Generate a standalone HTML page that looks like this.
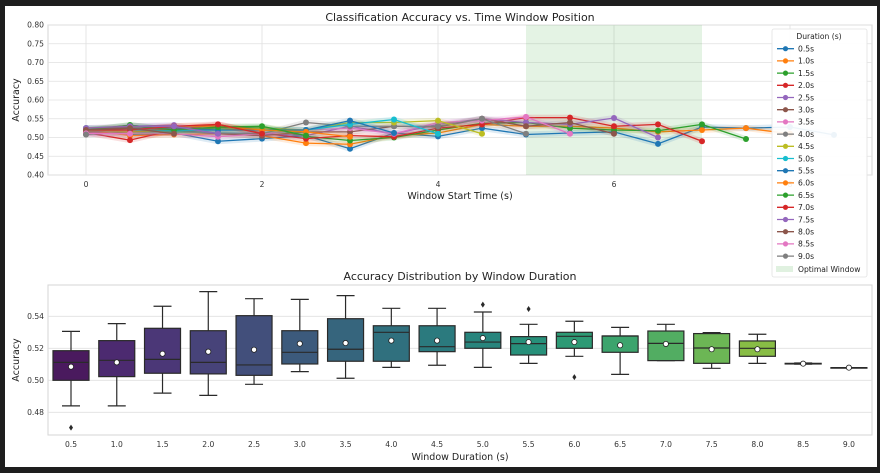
<!DOCTYPE html>
<html><head><meta charset="utf-8"><style>
html,body{margin:0;padding:0;background:#1e1e1e;}
svg{display:block;font-family:"DejaVu Sans","Liberation Sans",sans-serif;}
</style></head><body>
<svg id="fig" width="880" height="473" viewBox="0 0 880 473" xmlns="http://www.w3.org/2000/svg">
<rect x="0" y="0" width="880" height="473" fill="#1e1e1e"/>
<rect x="5" y="6" width="872" height="461" fill="#ffffff"/>
<g id="topchart"></g>
<g id="botchart"></g>
</svg>
<script>
// ---------- Top chart data ----------
const durations = [0.5,1.0,1.5,2.0,2.5,3.0,3.5,4.0,4.5,5.0,5.5,6.0,6.5,7.0,7.5,8.0,8.5,9.0];
const durLabels = ["0.5s","1.0s","1.5s","2.0s","2.5s","3.0s","3.5s","4.0s","4.5s","5.0s","5.5s","6.0s","6.5s","7.0s","7.5s","8.0s","8.5s","9.0s"];
const s05=[0.515,0.508,0.512,0.49,0.497,0.505,0.47,0.512,0.503,0.525,0.508,0.512,0.515,0.483,0.528,0.525,0.528,0.507];
const s10=[0.52,0.505,0.508,0.51,0.505,0.485,0.482,0.505,0.512,0.535,0.53,0.53,0.525,0.515,0.52,0.525,0.51];
const s15=[0.518,0.533,0.52,0.525,0.528,0.503,0.492,0.5,0.52,0.538,0.54,0.525,0.52,0.518,0.535,0.496];
const s20=[0.513,0.493,0.52,0.535,0.512,0.497,0.505,0.502,0.525,0.535,0.553,0.553,0.53,0.535,0.49];
const s25=[0.51,0.53,0.533,0.51,0.51,0.505,0.53,0.51,0.535,0.55,0.54,0.535,0.552,0.5];
const s30=[0.525,0.525,0.52,0.51,0.505,0.515,0.515,0.53,0.528,0.55,0.53,0.54,0.51];
const s35=[0.51,0.512,0.51,0.502,0.51,0.52,0.525,0.51,0.54,0.545,0.555,0.51];
const s40=[0.508,0.515,0.515,0.512,0.51,0.54,0.53,0.53,0.53,0.55,0.51];
const s45=[0.52,0.515,0.52,0.52,0.525,0.52,0.54,0.54,0.545,0.51];
const s50=[0.525,0.52,0.518,0.52,0.52,0.52,0.535,0.548,0.51];
const s55=[0.52,0.525,0.525,0.52,0.52,0.52,0.545,0.512];
const s60=[0.52,0.52,0.53,0.53,0.52,0.515,0.502];
const s65=[0.52,0.533,0.52,0.528,0.53,0.505];
const s70=[0.52,0.52,0.53,0.535,0.51];
const s75=[0.525,0.53,0.53,0.51];
const s80=[0.52,0.525,0.51];
const s85=[0.511,0.51];
const s90=[0.508];
const series=[s05,s10,s15,s20,s25,s30,s35,s40,s45,s50,s55,s60,s65,s70,s75,s80,s85,s90];
const topYTicks=[0.40,0.45,0.50,0.55,0.60,0.65,0.70,0.75,0.80];
const topXTicks=[0,2,4,6,8];
const optimalStart=5, optimalEnd=7;

// ---------- Bottom chart data ----------
const boxCats=["0.5","1.0","1.5","2.0","2.5","3.0","3.5","4.0","4.5","5.0","5.5","6.0","6.5","7.0","7.5","8.0","8.5","9.0"];
const whiskLo=[0.484,0.484,0.492,0.4906,0.4975,0.5054,0.5013,0.5081,0.5094,0.5081,0.5106,0.515,0.5037,0.5123,0.5075,0.5106,0.5101,0.5079];
const q1=[0.500,0.5023,0.5044,0.504,0.5031,0.5102,0.5119,0.5119,0.5179,0.520,0.5158,0.520,0.5175,0.5123,0.5106,0.515,0.5102,0.5079];
const med=[0.5112,0.5125,0.5131,0.5112,0.5096,0.5175,0.5194,0.530,0.521,0.5239,0.5229,0.5275,0.5277,0.5231,0.5202,0.520,0.5104,0.5079];
const q3=[0.5185,0.5248,0.5325,0.531,0.5404,0.531,0.5385,0.5341,0.5341,0.530,0.5273,0.530,0.5277,0.5308,0.5292,0.5246,0.5106,0.5079];
const whiskHi=[0.5306,0.5354,0.5463,0.5554,0.551,0.5506,0.5529,0.545,0.545,0.5427,0.535,0.5369,0.5331,0.535,0.5298,0.5288,0.5108,0.5079];
const means=[0.5085,0.5112,0.5166,0.5179,0.5191,0.5229,0.5233,0.5248,0.5248,0.5264,0.5239,0.5239,0.5219,0.5227,0.5194,0.5194,0.5104,0.5079];
const outlierCat=[0,9,10,11];
const outlierVal=[0.4704,0.5473,0.5446,0.502];
const botYTicks=[0.48,0.50,0.52,0.54];

const NS="http://www.w3.org/2000/svg";
function el(tag,attrs,parent,text){const e=document.createElementNS(NS,tag);for(const k in attrs)e.setAttribute(k,attrs[k]);if(text!==undefined)e.textContent=text;parent.appendChild(e);return e;}
const tab10=["#1f77b4","#ff7f0e","#2ca02c","#d62728","#9467bd","#8c564b","#e377c2","#7f7f7f","#bcbd22","#17becf"];
const viridis=["#4a1a5e","#4c2a70","#4b3777","#474379","#424f7b","#3c5a7c","#36657d","#30707e","#2b7a7e","#28857d","#27907a","#2d9a75","#3ca46d","#52ad62","#6cb655","#88bd45","#a5c437","#c1c92e"];

// ---------- Top ----------
const topG=document.getElementById('topchart');
const T={l:48,r:872,t:25,b:175,y0:0.40,y1:0.80};
const tx=v=>86+v*88;
const ty=v=>T.b-(v-T.y0)/(T.y1-T.y0)*(T.b-T.t);
el('rect',{x:T.l,y:T.t,width:T.r-T.l,height:T.b-T.t,fill:'#fff',stroke:'#d5d5d5','stroke-width':1},topG);
for(const t of topYTicks){const g=el('g',{},topG);
 el('line',{x1:T.l,x2:T.r,y1:ty(t),y2:ty(t),stroke:'#e0e0e0','stroke-width':0.8},g);
 el('text',{x:T.l-4,y:ty(t)+2.7,'text-anchor':'end','font-size':7.6,fill:'#333'},g,t.toFixed(2));}
for(const t of topXTicks){const g=el('g',{},topG);
 el('line',{x1:tx(t),x2:tx(t),y1:T.t,y2:T.b,stroke:'#e0e0e0','stroke-width':0.8},g);
 el('text',{x:tx(t),y:T.b+12,'text-anchor':'middle','font-size':7.6,fill:'#333'},g,String(t));}
const span=el('rect',{x:tx(optimalStart),y:T.t,width:tx(optimalEnd)-tx(optimalStart),height:T.b-T.t,fill:'#2ca02c','fill-opacity':0.13},topG);


series.forEach((arr,i)=>{
 const c=tab10[i%10];
 const g=el('g',{},topG);
 
 
 const up=arr.map((v,j)=>tx(j*0.5)+','+ty(v+0.008));
 const dn=arr.map((v,j)=>tx(j*0.5)+','+ty(v-0.008)).reverse();
 if(arr.length>1) el('polygon',{points:up.concat(dn).join(' '),fill:c,'fill-opacity':0.15},g);
 el('polyline',{points:arr.map((v,j)=>tx(j*0.5)+','+ty(v)).join(' '),fill:'none',stroke:c,'stroke-width':1.3},g);
 arr.forEach((v,j)=>{const p=el('circle',{cx:tx(j*0.5),cy:ty(v),r:3,fill:c},g);
  
  });
});
const t1=el('text',{x:460,y:21,'text-anchor':'middle','font-size':11,fill:'#222'},topG,'Classification Accuracy vs. Time Window Position');

const t2=el('text',{x:460,y:199,'text-anchor':'middle','font-size':9.5,fill:'#222'},topG,'Window Start Time (s)');

const t3=el('text',{x:19,y:100,'text-anchor':'middle','font-size':9.5,fill:'#222',transform:'rotate(-90 19 100)'},topG,'Accuracy');


// ---------- Bottom ----------
const botG=document.getElementById('botchart');
const B={l:48,r:872,t:285,b:435};
const bx=i=>71+i*45.76;
const by=v=>380.3-(v-0.5)*1600;
el('rect',{x:B.l,y:B.t,width:B.r-B.l,height:B.b-B.t,fill:'#fff',stroke:'#d5d5d5','stroke-width':1},botG);
for(const t of botYTicks){const g=el('g',{},botG);
 el('line',{x1:B.l,x2:B.r,y1:by(t),y2:by(t),stroke:'#e0e0e0','stroke-width':0.8},g);
 el('text',{x:B.l-4,y:by(t)+2.7,'text-anchor':'end','font-size':7.6,fill:'#333'},g,t.toFixed(2));}
boxCats.forEach((c,i)=>{
 const g=el('g',{},botG);
 
 
 const x=bx(i),w=36;
 el('line',{x1:x,x2:x,y1:by(whiskHi[i]),y2:by(q3[i]),stroke:'#2a2a2a','stroke-width':1.2},g);
 el('line',{x1:x,x2:x,y1:by(q1[i]),y2:by(whiskLo[i]),stroke:'#2a2a2a','stroke-width':1.2},g);
 el('line',{x1:x-9,x2:x+9,y1:by(whiskHi[i]),y2:by(whiskHi[i]),stroke:'#2a2a2a','stroke-width':1.2},g);
 el('line',{x1:x-9,x2:x+9,y1:by(whiskLo[i]),y2:by(whiskLo[i]),stroke:'#2a2a2a','stroke-width':1.2},g);
 el('rect',{x:x-w/2,y:by(q3[i]),width:w,height:Math.max(0.5,by(q1[i])-by(q3[i])),fill:viridis[i],stroke:'#2a2a2a','stroke-width':1.2},g);
 el('line',{x1:x-w/2,x2:x+w/2,y1:by(med[i]),y2:by(med[i]),stroke:'#2a2a2a','stroke-width':1.2},g);
 el('circle',{cx:x,cy:by(means[i]),r:2.6,fill:'#fff',stroke:'#222','stroke-width':0.8},g);
 el('text',{x:x,y:B.b+12,'text-anchor':'middle','font-size':7.6,fill:'#333'},g,c);
});
outlierCat.forEach((ci,k)=>{const d=el('path',{d:`M${bx(ci)},${by(outlierVal[k])-3} l2,3 l-2,3 l-2,-3z`,fill:'#2a2a2a'},botG);
 
 });
const b1=el('text',{x:460,y:280,'text-anchor':'middle','font-size':11,fill:'#222'},botG,'Accuracy Distribution by Window Duration');

const b2=el('text',{x:460,y:460,'text-anchor':'middle','font-size':9.5,fill:'#222'},botG,'Window Duration (s)');

const b3=el('text',{x:19,y:360,'text-anchor':'middle','font-size':9.5,fill:'#222',transform:'rotate(-90 19 360)'},botG,'Accuracy');


// ---------- Legend ----------
const fig=document.getElementById('fig');
const lg=el('g',{},fig);


el('rect',{x:772,y:29,width:95,height:248,rx:2,fill:'#fff','fill-opacity':0.92,stroke:'#e2e2e2','stroke-width':0.8},lg);
el('text',{x:819,y:39,'text-anchor':'middle','font-size':7.6,fill:'#222'},lg,'Duration (s)');
durLabels.forEach((lab,i)=>{
 const y=48.7+i*12.2,c=tab10[i%10];
 const e=el('g',{},lg);
 
 
 el('line',{x1:777,x2:794,y1:y,y2:y,stroke:c,'stroke-width':1.3},e);
 el('circle',{cx:785.5,cy:y,r:2.6,fill:c},e);
 el('text',{x:798,y:y+2.8,'font-size':7.6,fill:'#222'},e,lab);
});
const oe=el('g',{},lg);


el('rect',{x:776,y:266,width:17,height:6,fill:'#2ca02c','fill-opacity':0.15},oe);
el('text',{x:798,y:272,'font-size':7.6,fill:'#222'},oe,'Optimal Window');
</script>
</body></html>
